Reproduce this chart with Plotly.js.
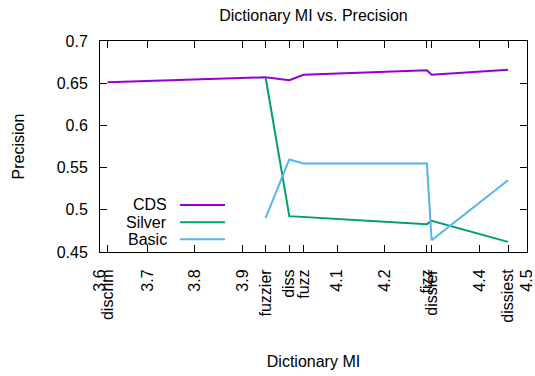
<!DOCTYPE html>
<html>
<head>
<meta charset="utf-8">
<script src="https://cdn.plot.ly/plotly-3.0.1.min.js"></script>
<style>html,body{margin:0;padding:0;background:#fff;}#chart{width:535px;height:376px;}</style>
</head>
<body>
<div id="chart"></div>
<script>
// Words and their dictionary MI (x positions)
var words = ["discrim", "fuzzier", "diss", "fuzz", "fizz", "dissier", "dissiest"];
var wordMI = [3.616, 3.949, 3.999, 4.029, 4.289, 4.299, 4.46];
// Numeric x tick labels
var numTicks = [3.6, 3.7, 3.8, 3.9, 4.1, 4.2, 4.4, 4.5];
var numTickText = ["3.6", "3.7", "3.8", "3.9", "4.1", "4.2", "4.4", "4.5"];
// Series (null = no value for that word)
var seriesNames = ["CDS", "Silver", "Basic"];
var cds =    [0.651, 0.657, 0.6535, 0.660, 0.6653, 0.660, 0.666];
var silver = [null, 0.657, 0.4925, null, 0.483, 0.487, 0.462];
var basic =  [null, 0.490, 0.5596, 0.5548, 0.5548, 0.464, 0.535];
var colors = ["#9400d3", "#009e73", "#56b4e9"];

var seriesValues = [cds, silver, basic];
var traces = seriesValues.map(function (vals, i) {
  var xs = [], ys = [];
  vals.forEach(function (v, j) { if (v !== null) { xs.push(wordMI[j]); ys.push(v); } });
  return {x: xs, y: ys, mode: "lines", type: "scatter", name: seriesNames[i],
          line: {color: colors[i], width: 2}, showlegend: false, hoverinfo: "skip"};
});

var font = {family: "Liberation Sans, Arial, sans-serif", size: 16, color: "#000"};

// manual gnuplot-style legend (text left, sample right)
var annotations = [], shapes = [];
var legTop = 0.223, legStep = 0.0815;
seriesNames.forEach(function (n, i) {
  var yy = legTop - i * legStep;
  annotations.push({xref: "paper", yref: "paper", x: 0.1616, y: yy, xanchor: "right", yanchor: "middle",
                    text: n, showarrow: false, font: font});
  shapes.push({type: "line", xref: "paper", yref: "paper", x0: 0.1874, x1: 0.2927, y0: yy, y1: yy,
               line: {color: colors[i], width: 2}});
});

var layout = {
  width: 535, height: 376,
  margin: {l: 100, r: 8, t: 41, b: 124},
  paper_bgcolor: "#fff", plot_bgcolor: "#fff",
  font: font,
  title: {text: "Dictionary MI vs. Precision", x: 0.5, xref: "paper", y: 1 - 15 / 376, yanchor: "middle", font: font},
  xaxis: {
    range: [3.6, 4.5], showgrid: false, zeroline: false,
    showline: true, linecolor: "#000", linewidth: 1, mirror: "ticks",
    ticks: "inside", ticklen: 7, tickcolor: "#000",
    tickmode: "array", tickvals: numTicks.concat(wordMI), ticktext: numTickText.concat(words),
    tickangle: -90, ticklabelstandoff: 10, ticklabeloverflow: "allow",
    title: {text: "Dictionary MI", font: font, standoff: 34},
    automargin: false
  },
  yaxis: {
    range: [0.45, 0.7], showgrid: false, zeroline: false,
    showline: true, linecolor: "#000", linewidth: 1, mirror: "ticks",
    ticks: "inside", ticklen: 7, tickcolor: "#000",
    tickmode: "array", tickvals: [0.45, 0.5, 0.55, 0.6, 0.65, 0.7],
    ticktext: ["0.45", "0.5", "0.55", "0.6", "0.65", "0.7"],
    ticklabelstandoff: 8,
    title: {text: "Precision", font: font, standoff: 28},
    automargin: false
  },
  annotations: annotations,
  shapes: shapes
};

Plotly.newPlot("chart", traces, layout, {displayModeBar: false, staticPlot: true});
</script>
</body>
</html>
